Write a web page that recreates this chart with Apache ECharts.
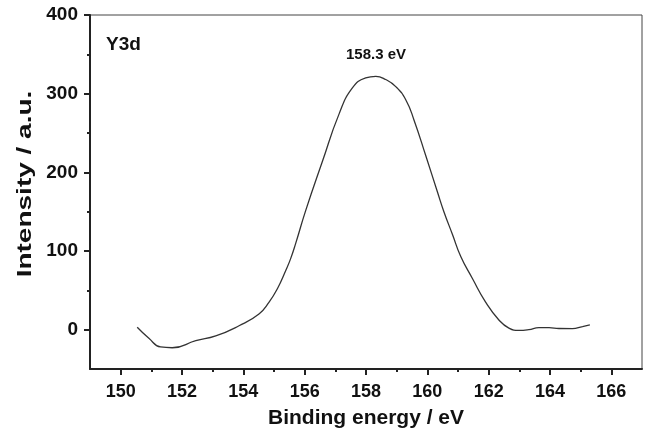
<!DOCTYPE html>
<html>
<head>
<meta charset="utf-8">
<script src="https://cdn.jsdelivr.net/npm/echarts@6/dist/echarts.min.js"></script>
<style>
    html, body { margin: 0; padding: 0; background: #fff; }
    #chart { width: 649px; height: 434px; }
</style>
</head>
<body>
<div id="chart"></div>
<script>
    // Y3d XPS spectrum
    var energy = [150.54, 150.92, 151.30, 151.68, 152.45, 153.10, 153.86, 154.51, 154.84, 155.11,
        155.38, 155.54, 155.71, 156.03, 156.58, 157.12, 157.55, 157.99, 158.32, 158.64,
        158.97, 159.30, 159.57, 159.95, 160.33, 160.54, 160.82, 161.09, 161.47, 161.90,
        162.34, 162.66, 162.99, 163.31, 163.64, 163.97, 164.29, 164.73, 165.06, 165.30];
    var intensity = [3, -11, -22, -23, -14, -8, 5, 20, 35, 52,
        75, 90, 110, 151, 214, 274, 307, 320, 322, 318,
        309, 292, 266, 221, 175, 150, 121, 93, 65, 35,
        12, 2, -1, 0, 2.5, 2.5, 1.5, 1.3, 4, 6];

    var xMajorTicks = [150, 152, 154, 156, 158, 160, 162, 164, 166];
    var xMinorTicks = [151, 153, 155, 157, 159, 161, 163, 165];
    var yMajorTicks = [0, 100, 200, 300, 400];
    var yMinorTicks = [50, 150, 250, 350];

    var axisColor = '#222';
    var font = 'Liberation Sans, Arial, sans-serif';

    var myChart = echarts.init(document.getElementById('chart'));

    var option = {
        animation: false,
        grid: {
            left: 90,
            right: 7,
            top: 15,
            bottom: 63,
            show: true,
            borderColor: '#444',
            borderWidth: 1
        },
        xAxis: [{
                type: 'value',
                min: 149,
                max: 167,
                position: 'bottom',
                axisLine: { show: true, onZero: false, lineStyle: { color: axisColor, width: 2 } },
                axisTick: { show: true, customValues: xMajorTicks, length: 6, lineStyle: { color: axisColor, width: 2 } },
                axisLabel: {
                    customValues: xMajorTicks, margin: 14,
                    color: '#111', fontSize: 18, fontWeight: 'bold', fontFamily: font
                },
                splitLine: { show: false },
                name: 'Binding energy / eV',
                nameLocation: 'middle',
                nameGap: 39,
                nameTextStyle: { color: '#111', fontSize: 21, fontWeight: 'bold', fontFamily: font }
            },
            {
                type: 'value',
                min: 149,
                max: 167,
                position: 'bottom',
                axisLine: { show: false, onZero: false },
                axisTick: { show: true, customValues: xMinorTicks, length: 3, lineStyle: { color: axisColor, width: 2 } },
                axisLabel: { show: false },
                splitLine: { show: false }
            }
        ],
        yAxis: [{
                type: 'value',
                min: -50,
                max: 400,
                position: 'left',
                axisLine: { show: true, onZero: false, lineStyle: { color: axisColor, width: 2 } },
                axisTick: { show: true, customValues: yMajorTicks, length: 6, lineStyle: { color: axisColor, width: 2 } },
                axisLabel: {
                    customValues: yMajorTicks, margin: 12,
                    color: '#111', fontSize: 19, fontWeight: 'bold', fontFamily: font
                },
                splitLine: { show: false }
            },
            {
                type: 'value',
                min: -50,
                max: 400,
                position: 'left',
                axisLine: { show: false, onZero: false },
                axisTick: { show: true, customValues: yMinorTicks, length: 3, lineStyle: { color: axisColor, width: 2 } },
                axisLabel: { show: false },
                splitLine: { show: false }
            }
        ],
        graphic: [{
                // y axis title, stretched along its length as in the figure
                type: 'text',
                x: 25,
                y: 184,
                rotation: Math.PI / 2,
                scaleX: 1.4,
                style: {
                    text: 'Intensity / a.u.', fill: '#111', font: 'bold 20px ' + font,
                    align: 'center', verticalAlign: 'middle'
                }
            },
            {
                type: 'text',
                x: 106,
                y: 45,
                style: { text: 'Y3d', fill: '#111', font: 'bold 19px ' + font, align: 'left', verticalAlign: 'middle' }
            },
            {
                type: 'text',
                x: 376,
                y: 55,
                style: { text: '158.3 eV', fill: '#111', font: 'bold 15px ' + font, align: 'center', verticalAlign: 'middle' }
            }
        ],
        series: [{
            type: 'line',
            xAxisIndex: 0,
            yAxisIndex: 0,
            data: energy.map(function (e, i) { return [e, intensity[i]]; }),
            smooth: 0.5,
            showSymbol: false,
            lineStyle: { color: '#333', width: 1.3 }
        }]
    };
    myChart.setOption(option);
</script>
</body>
</html>
